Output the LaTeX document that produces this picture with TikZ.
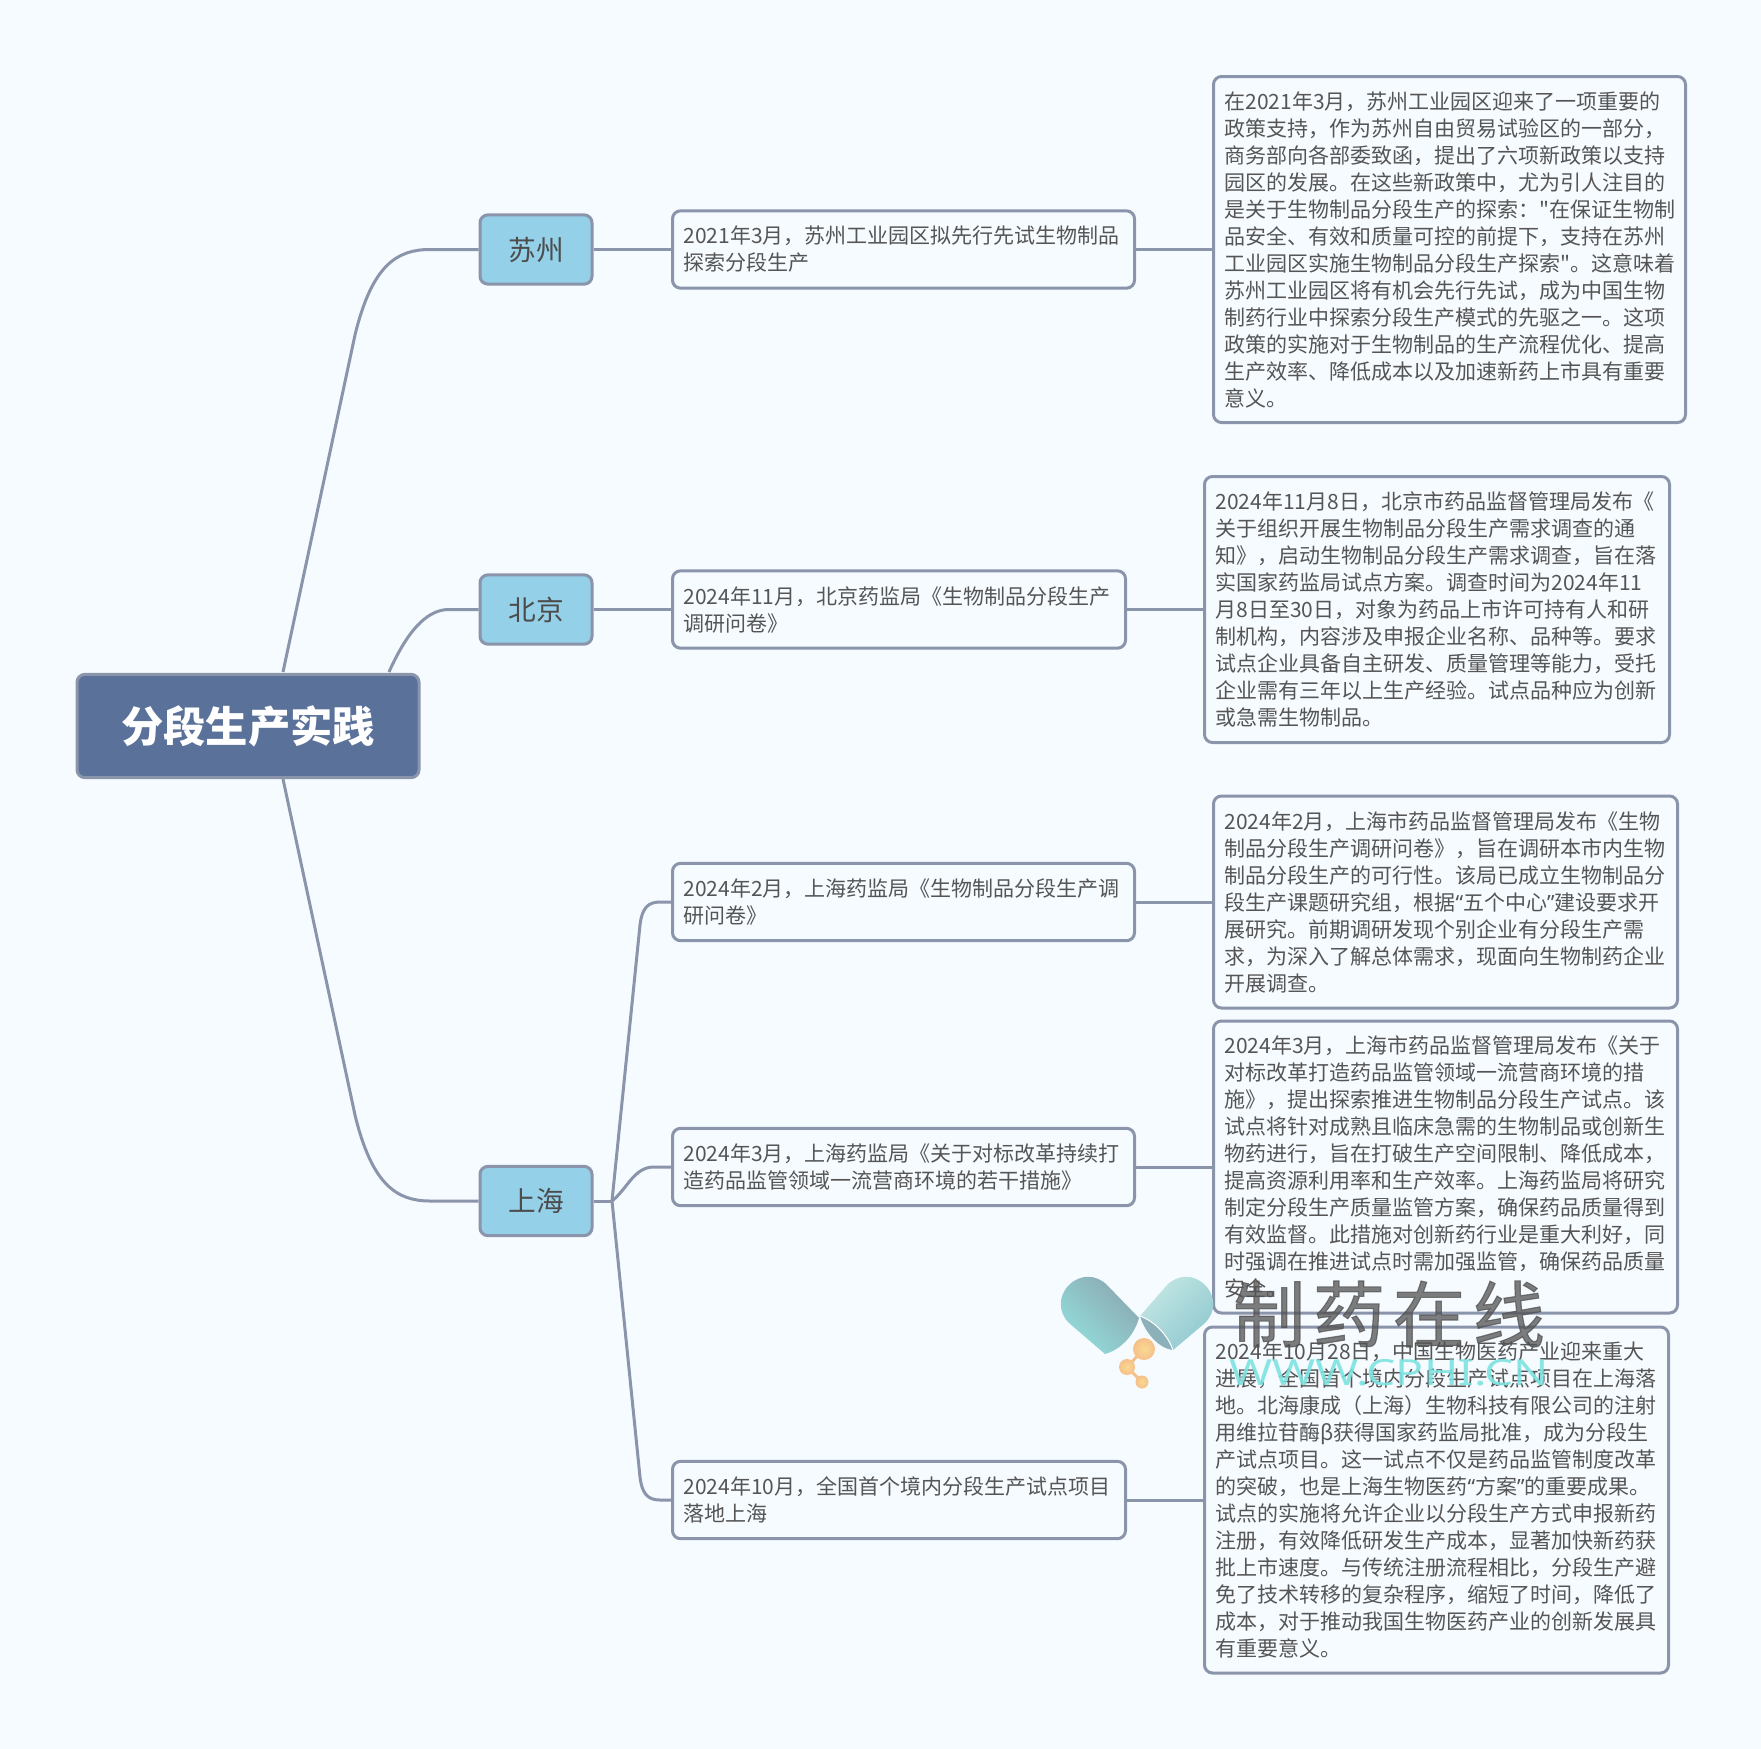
\documentclass[tikz,border=0pt]{standalone}
\usepackage{fontspec}
\setmainfont[Ligatures=TeXOff]{Noto Sans CJK SC}
\newfontfamily\quotefont[Ligatures=TeXOff]{Noto Sans}
\newfontfamily\sitefont[FakeStretch=1.29]{Noto Sans}
\newfontfamily\markfont[LetterSpace=11,FakeBold=1.6]{Noto Sans CJK SC}
\newcommand{\qopen}{{\quotefont “}}
\newcommand{\qclose}{{\quotefont ”}}
\definecolor{pagebg}{HTML}{F6FBFF}
\definecolor{edgecol}{HTML}{8A94AB}
\definecolor{rootcol}{HTML}{5A7199}
\definecolor{citycol}{HTML}{94D0E8}
\definecolor{textcol}{HTML}{555555}
\definecolor{pillcol}{HTML}{F6C089}
\definecolor{pillcore}{HTML}{F9D993}
\definecolor{capal}{HTML}{93DEDC}
\definecolor{capar}{HTML}{8BA8B1}
\definecolor{capbl}{HTML}{8FC8CF}
\definecolor{capbr}{HTML}{C4E7E4}
\tikzset{
	branch/.style={draw=edgecol,line width=2.25pt},
	rootbox/.style={draw=edgecol,fill=rootcol,line width=2.25pt,rounded corners=6pt,text=white,
		minimum width=256.5pt,minimum height=77.5pt,font=\fontsize{31.75}{38}\selectfont\bfseries},
	citybox/.style={draw=edgecol,fill=citycol,line width=2.25pt,rounded corners=6pt,text=black!70,
		minimum width=84pt,minimum height=52pt,font=\fontsize{20.75}{26}\selectfont},
	textbox/.style={draw=edgecol,fill=pagebg,line width=2.25pt,rounded corners=6pt,text=textcol,anchor=west,
		align=left,inner xsep=8.25pt,inner ysep=0pt,text width=#1,font=\fontsize{15.75}{20.25}\selectfont},
}
\begin{document}
\begin{tikzpicture}[x=0.75pt,y=-0.75pt]
	\fill[pagebg] (0,0) rectangle (1761,1749);
	\useasboundingbox (0,0) rectangle (1761,1749);

	% Nodes
	\node[rootbox] (root) at (248,726) {\raisebox{1.5pt}{分段生产实践}};
	\node[citybox] (suzhou) at (536,249.5) {苏州};
	\node[citybox] (beijing) at (536,609.5) {北京};
	\node[citybox] (shanghai) at (536,1201) {上海};

	% Second column
	\node[textbox=330pt,minimum height=58pt] (szsum) at (671,249.5) {2021年3月，苏州工业园区拟先行先试生物制品\\探索分段生产};
	\node[textbox=323.25pt,minimum height=58pt] (bjsum) at (671,609.5) {2024年11月，北京药监局《生物制品分段生产\\调研问卷》};
	\node[textbox=330pt,minimum height=58pt] (shsuma) at (671,902) {2024年2月，上海药监局《生物制品分段生产调\\研问卷》};
	\node[textbox=330pt,minimum height=58pt] (shsumb) at (671,1167) {2024年3月，上海药监局《关于对标改革持续打\\造药品监管领域一流营商环境的若干措施》};
	\node[textbox=323.25pt,minimum height=58pt] (shsumc) at (671,1500) {2024年10月，全国首个境内分段生产试点项目\\落地上海};

	% Third column
	\node[textbox=337.5pt,minimum height=259.5pt] (szfull) at (1212,249.5) {在2021年3月，苏州工业园区迎来了一项重要的\\
		政策支持，作为苏州自由贸易试验区的一部分，\\
		商务部向各部委致函，提出了六项新政策以支持\\
		园区的发展。在这些新政策中，尤为引人注目的\\
		是关于生物制品分段生产的探索："在保证生物制\\
		品安全、有效和质量可控的前提下，支持在苏州\\
		工业园区实施生物制品分段生产探索"。这意味着\\
		苏州工业园区将有机会先行先试，成为中国生物\\
		制药行业中探索分段生产模式的先驱之一。这项\\
		政策的实施对于生物制品的生产流程优化、提高\\
		生产效率、降低成本以及加速新药上市具有重要\\
		意义。};
	\node[textbox=332.25pt,minimum height=199.5pt] (bjfull) at (1203,609.5) {2024年11月8日，北京市药品监督管理局发布《\\
		关于组织开展生物制品分段生产需求调查的通\\
		知》，启动生物制品分段生产需求调查，旨在落\\
		实国家药监局试点方案。调查时间为2024年11\\
		月8日至30日，对象为药品上市许可持有人和研\\
		制机构，内容涉及申报企业名称、品种等。要求\\
		试点企业具备自主研发、质量管理等能力，受托\\
		企业需有三年以上生产经验。试点品种应为创新\\
		或急需生物制品。};
	\node[textbox=331.5pt,minimum height=159pt] (shfulla) at (1212,902) {2024年2月，上海市药品监督管理局发布《生物\\
		制品分段生产调研问卷》，旨在调研本市内生物\\
		制品分段生产的可行性。该局已成立生物制品分\\
		段生产课题研究组，根据\qopen 五个中心\qclose 建设要求开\\
		展研究。前期调研发现个别企业有分段生产需\\
		求，为深入了解总体需求，现面向生物制药企业\\
		开展调查。};
	\node[textbox=331.5pt,minimum height=219pt] (shfullb) at (1212,1167) {2024年3月，上海市药品监督管理局发布《关于\\
		对标改革打造药品监管领域一流营商环境的措\\
		施》，提出探索推进生物制品分段生产试点。该\\
		试点将针对成熟且临床急需的生物制品或创新生\\
		物药进行，旨在打破生产空间限制、降低成本，\\
		提高资源利用率和生产效率。上海药监局将研究\\
		制定分段生产质量监管方案，确保药品质量得到\\
		有效监督。此措施对创新药行业是重大利好，同\\
		时强调在推进试点时需加强监管，确保药品质量\\
		安全。};
	\node[textbox=331.5pt,minimum height=259.5pt] (shfullc) at (1203,1500) {2024年10月28日，中国生物医药产业迎来重大\\
		进展，全国首个境内分段生产试点项目在上海落\\
		地。北海康成（上海）生物科技有限公司的注射\\
		用维拉苷酶β获得国家药监局批准，成为分段生\\
		产试点项目。这一试点不仅是药品监管制度改革\\
		的突破，也是上海生物医药\qopen 方案\qclose 的重要成果。\\
		试点的实施将允许企业以分段生产方式申报新药\\
		注册，有效降低研发生产成本，显著加快新药获\\
		批上市速度。与传统注册流程相比，分段生产避\\
		免了技术转移的复杂程序，缩短了时间，降低了\\
		成本，对于推动我国生物医药产业的创新发展具\\
		有重要意义。};

	% Root branches
	\coordinate (rootup) at (283,672);
	\coordinate (rootmid) at (389,672);
	\coordinate (rootdown) at (283,779);
	\coordinate (shfan) at (612,1201);
	\draw[branch] (rootup) -- (355,335) .. controls (372,265) and (397,249.5) .. (430,249.5) -- (suzhou.west);
	\draw[branch] (rootmid) .. controls (410,625) and (430,609.5) .. (449,609.5) -- (beijing.west);
	\draw[branch] (rootdown) -- (355,1115) .. controls (372,1185) and (397,1201) .. (430,1201) -- (shanghai.west);

	% Straight links
	\foreach \from/\to in {suzhou/szsum,beijing/bjsum,szsum/szfull,bjsum/bjfull,shsuma/shfulla,shsumb/shfullb,shsumc/shfullc}{
			\draw[branch] (\from.east) -- (\to.west);
		}

	% Shanghai fan
	\draw[branch] (shanghai.east) -- (shfan);
	\draw[branch] (shfan) -- (640,925) .. controls (642,908) and (648,902) .. (660,902) -- (shsuma.west);
	\draw[branch] (shfan) .. controls (628,1188) and (634,1167) .. (654,1167) -- (shsumb.west);
	\draw[branch] (shfan) -- (640,1477) .. controls (642,1494) and (648,1500) .. (660,1500) -- (shsumc.west);

	% Left capsule
	\shade[left color=capal,right color=capar,shading angle=135] (1107,1285) -- (1139,1318) .. controls (1134,1336) and (1120,1350) .. (1105,1354) -- (1069,1323) .. controls (1058,1312) and (1058,1296) .. (1069,1285) .. controls (1080,1274) and (1096,1274) .. (1107,1285) -- cycle;
	% Right capsule
	\shade[left color=capbl,right color=capbr,shading angle=-135] (1167,1285) -- (1140,1316) .. controls (1145,1332) and (1158,1348) .. (1173,1350) -- (1205,1323) .. controls (1216,1312) and (1216,1296) .. (1205,1285) .. controls (1194,1274) and (1178,1274) .. (1167,1285) -- cycle;
	\fill[capar!70!capbl] (1140,1316) .. controls (1145,1332) and (1158,1348) .. (1173,1350) .. controls (1168,1336) and (1156,1322) .. cycle;
	\draw[white,line width=0.75pt] (1140,1316) .. controls (1156,1322) and (1168,1336) .. (1173,1350);
	% Molecule
	\draw[pillcol,line width=2.25pt] (1144,1349) -- (1127,1367) -- (1142,1382);
	\shade[inner color=pillcore,outer color=pillcol] (1144,1349) circle (11);
	\shade[inner color=pillcore,outer color=pillcol] (1127,1367) circle (8);
	\shade[inner color=pillcore,outer color=pillcol] (1142,1382) circle (6.5);

	% Watermark
	\node[text=black!68,opacity=0.75,font=\markfont\fontsize{54}{60}\selectfont] (mark) at (1389,1314) {制药在线};
	\node[text=capal!85!cyan,opacity=0.9,font=\sitefont\fontsize{27}{30}\selectfont] (site) at (1389,1373) {WWW.CPHI.CN};
\end{tikzpicture}
\end{document}
